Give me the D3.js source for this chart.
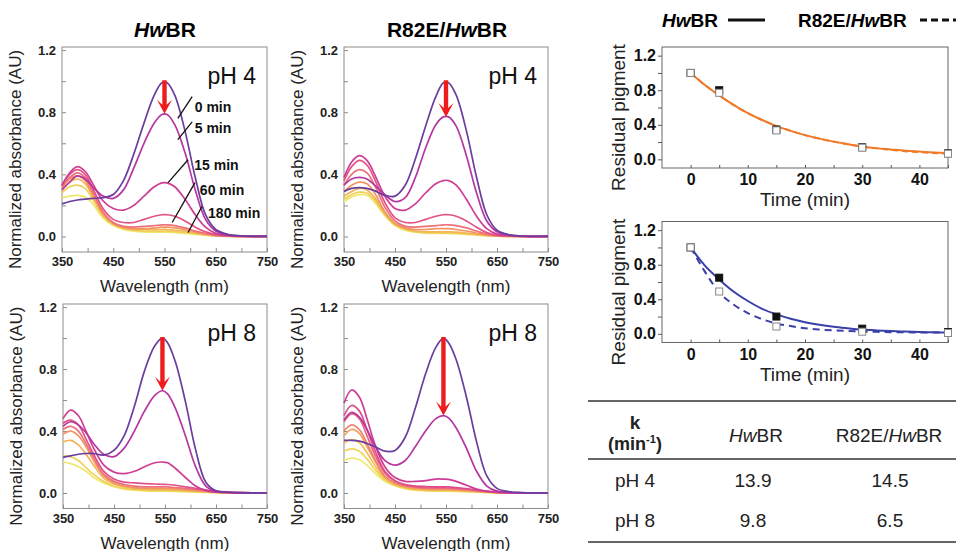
<!DOCTYPE html>
<html>
<head>
<meta charset="utf-8">
<script src="https://cdn.jsdelivr.net/npm/d3@7"></script>
<style>
  body { margin: 0; background: #fff; }
  svg { display: block; font-family: Arial, "Liberation Sans", sans-serif; }
</style>
</head>
<body>
<div class="chart"></div>
<script>
// ---- spectra: absorbance at these wavelengths ----
const wavelengths = [350, 365, 380, 395, 410, 430, 450, 470, 490, 510, 530, 545, 555, 570, 590, 610, 630, 650, 675, 700, 750];

const hwbrPh4Spectra = [
  [0.21, 0.225, 0.235, 0.24, 0.245, 0.25, 0.27, 0.36, 0.53, 0.73, 0.91, 0.99, 0.99, 0.91, 0.68, 0.38, 0.14, 0.045, 0.012, 0.004, 0],
  [0.30, 0.35, 0.39, 0.37, 0.32, 0.26, 0.245, 0.30, 0.44, 0.60, 0.73, 0.785, 0.785, 0.72, 0.54, 0.30, 0.11, 0.035, 0.01, 0.003, 0],
  [0.33, 0.41, 0.45, 0.42, 0.34, 0.23, 0.18, 0.17, 0.20, 0.26, 0.32, 0.345, 0.345, 0.32, 0.24, 0.14, 0.06, 0.02, 0.006, 0.002, 0],
  [0.33, 0.40, 0.43, 0.40, 0.31, 0.18, 0.11, 0.09, 0.09, 0.11, 0.13, 0.14, 0.14, 0.13, 0.10, 0.06, 0.03, 0.012, 0.004, 0.001, 0],
  [0.32, 0.38, 0.41, 0.38, 0.29, 0.16, 0.09, 0.065, 0.06, 0.065, 0.07, 0.075, 0.075, 0.07, 0.055, 0.035, 0.02, 0.008, 0.003, 0.001, 0],
  [0.31, 0.37, 0.39, 0.36, 0.27, 0.15, 0.085, 0.06, 0.05, 0.05, 0.055, 0.06, 0.06, 0.055, 0.045, 0.03, 0.015, 0.006, 0.002, 0, 0],
  [0.30, 0.35, 0.37, 0.34, 0.26, 0.14, 0.08, 0.055, 0.045, 0.045, 0.045, 0.045, 0.045, 0.04, 0.035, 0.022, 0.012, 0.005, 0.002, 0, 0],
  [0.28, 0.32, 0.33, 0.31, 0.24, 0.13, 0.075, 0.05, 0.04, 0.035, 0.035, 0.035, 0.035, 0.032, 0.026, 0.018, 0.01, 0.004, 0.001, 0, 0],
  [0.25, 0.26, 0.265, 0.255, 0.21, 0.12, 0.07, 0.045, 0.035, 0.03, 0.028, 0.028, 0.028, 0.025, 0.02, 0.014, 0.008, 0.003, 0.001, 0, 0]
];

const r82ePh4Spectra = [
  [0.29, 0.31, 0.315, 0.31, 0.295, 0.265, 0.26, 0.33, 0.50, 0.71, 0.90, 0.99, 0.99, 0.91, 0.68, 0.38, 0.14, 0.04, 0.01, 0.003, 0],
  [0.33, 0.37, 0.38, 0.37, 0.33, 0.27, 0.225, 0.25, 0.38, 0.57, 0.72, 0.77, 0.77, 0.71, 0.52, 0.28, 0.10, 0.03, 0.008, 0.002, 0],
  [0.38, 0.48, 0.52, 0.49, 0.40, 0.26, 0.18, 0.17, 0.21, 0.28, 0.34, 0.36, 0.36, 0.33, 0.24, 0.13, 0.05, 0.015, 0.005, 0.001, 0],
  [0.36, 0.45, 0.49, 0.46, 0.37, 0.22, 0.12, 0.09, 0.09, 0.11, 0.13, 0.14, 0.14, 0.13, 0.10, 0.06, 0.025, 0.008, 0.003, 0, 0],
  [0.33, 0.40, 0.43, 0.41, 0.33, 0.19, 0.10, 0.065, 0.06, 0.065, 0.07, 0.075, 0.075, 0.07, 0.055, 0.035, 0.015, 0.005, 0.002, 0, 0],
  [0.29, 0.33, 0.35, 0.34, 0.28, 0.16, 0.085, 0.055, 0.045, 0.045, 0.05, 0.05, 0.05, 0.045, 0.035, 0.022, 0.01, 0.004, 0.001, 0, 0],
  [0.26, 0.29, 0.31, 0.30, 0.25, 0.15, 0.08, 0.05, 0.035, 0.03, 0.03, 0.03, 0.03, 0.028, 0.022, 0.014, 0.007, 0.003, 0.001, 0, 0],
  [0.24, 0.27, 0.285, 0.28, 0.235, 0.14, 0.075, 0.045, 0.03, 0.025, 0.025, 0.022, 0.022, 0.02, 0.016, 0.01, 0.005, 0.002, 0, 0, 0],
  [0.225, 0.255, 0.27, 0.265, 0.22, 0.135, 0.07, 0.04, 0.028, 0.022, 0.02, 0.02, 0.02, 0.018, 0.014, 0.009, 0.005, 0.002, 0, 0, 0]
];

const hwbrPh8Spectra = [
  [0.23, 0.24, 0.25, 0.255, 0.255, 0.245, 0.275, 0.37, 0.56, 0.79, 0.95, 1.0, 0.97, 0.85, 0.59, 0.28, 0.07, 0.015, 0.005, 0.002, 0],
  [0.43, 0.46, 0.44, 0.39, 0.32, 0.25, 0.235, 0.29, 0.40, 0.53, 0.63, 0.66, 0.64, 0.55, 0.37, 0.17, 0.045, 0.012, 0.004, 0.001, 0],
  [0.48, 0.535, 0.50, 0.40, 0.29, 0.18, 0.135, 0.125, 0.14, 0.17, 0.195, 0.20, 0.195, 0.16, 0.10, 0.045, 0.015, 0.005, 0.002, 0, 0],
  [0.45, 0.47, 0.44, 0.35, 0.25, 0.14, 0.09, 0.07, 0.065, 0.06, 0.058, 0.056, 0.055, 0.05, 0.04, 0.03, 0.02, 0.012, 0.006, 0.003, 0],
  [0.41, 0.43, 0.40, 0.32, 0.23, 0.12, 0.075, 0.055, 0.045, 0.04, 0.04, 0.04, 0.04, 0.035, 0.03, 0.022, 0.015, 0.008, 0.004, 0.002, 0],
  [0.38, 0.40, 0.37, 0.30, 0.21, 0.11, 0.065, 0.045, 0.035, 0.03, 0.03, 0.03, 0.03, 0.027, 0.022, 0.016, 0.01, 0.006, 0.003, 0.001, 0],
  [0.33, 0.34, 0.31, 0.25, 0.18, 0.095, 0.058, 0.04, 0.03, 0.025, 0.022, 0.022, 0.022, 0.02, 0.016, 0.012, 0.008, 0.005, 0.002, 0.001, 0],
  [0.24, 0.235, 0.21, 0.165, 0.12, 0.075, 0.045, 0.03, 0.022, 0.018, 0.015, 0.015, 0.015, 0.013, 0.01, 0.008, 0.005, 0.003, 0.001, 0, 0],
  [0.20, 0.19, 0.17, 0.14, 0.10, 0.065, 0.04, 0.025, 0.018, 0.014, 0.012, 0.012, 0.012, 0.01, 0.008, 0.006, 0.004, 0.002, 0.001, 0, 0]
];

const r82ePh8Spectra = [
  [0.34, 0.34, 0.335, 0.32, 0.30, 0.27, 0.275, 0.36, 0.55, 0.77, 0.94, 1.0, 0.97, 0.86, 0.62, 0.33, 0.11, 0.03, 0.008, 0.003, 0],
  [0.47, 0.52, 0.49, 0.41, 0.31, 0.21, 0.18, 0.21, 0.30, 0.40, 0.48, 0.50, 0.485, 0.42, 0.29, 0.14, 0.045, 0.012, 0.004, 0.001, 0],
  [0.58, 0.665, 0.62, 0.48, 0.32, 0.17, 0.10, 0.075, 0.075, 0.08, 0.09, 0.09, 0.088, 0.075, 0.05, 0.025, 0.01, 0.004, 0.001, 0, 0],
  [0.50, 0.565, 0.53, 0.41, 0.28, 0.14, 0.08, 0.055, 0.045, 0.042, 0.04, 0.04, 0.04, 0.035, 0.028, 0.02, 0.012, 0.006, 0.003, 0.001, 0],
  [0.46, 0.51, 0.48, 0.37, 0.25, 0.13, 0.075, 0.05, 0.04, 0.035, 0.033, 0.033, 0.032, 0.03, 0.024, 0.017, 0.01, 0.005, 0.002, 0, 0],
  [0.40, 0.44, 0.41, 0.32, 0.22, 0.11, 0.065, 0.045, 0.035, 0.03, 0.028, 0.028, 0.027, 0.025, 0.02, 0.014, 0.008, 0.004, 0.002, 0, 0],
  [0.37, 0.41, 0.385, 0.30, 0.21, 0.105, 0.06, 0.04, 0.03, 0.025, 0.022, 0.022, 0.022, 0.02, 0.016, 0.011, 0.007, 0.003, 0.001, 0, 0],
  [0.32, 0.345, 0.325, 0.26, 0.18, 0.095, 0.055, 0.035, 0.025, 0.02, 0.018, 0.018, 0.018, 0.016, 0.012, 0.009, 0.006, 0.003, 0.001, 0, 0],
  [0.27, 0.285, 0.27, 0.22, 0.155, 0.085, 0.05, 0.03, 0.02, 0.016, 0.014, 0.014, 0.014, 0.012, 0.01, 0.007, 0.004, 0.002, 0.001, 0, 0],
  [0.21, 0.225, 0.215, 0.18, 0.13, 0.075, 0.045, 0.028, 0.018, 0.014, 0.012, 0.012, 0.012, 0.01, 0.008, 0.006, 0.003, 0.001, 0, 0, 0]
];

// red arrows: wavelength and the absorbance the arrow points down to
const arrowWavelength = [550, 550, 545, 545];
const arrowTo = [0.79, 0.77, 0.66, 0.50];

const timeLabels = ['0 min', '5 min', '15 min', '60 min', '180 min'];

// ---- bleaching kinetics ----
const fitTimes = [0, 2.5, 5, 7.5, 10, 12.5, 15, 17.5, 20, 22.5, 25, 27.5, 30, 32.5, 35, 37.5, 40, 42.5, 45];
const ph4FitHwbr = [1.0, 0.86, 0.74, 0.63, 0.535, 0.455, 0.385, 0.33, 0.28, 0.24, 0.205, 0.175, 0.15, 0.13, 0.115, 0.1, 0.09, 0.08, 0.075];
const ph4FitR82e = [1.0, 0.86, 0.74, 0.63, 0.535, 0.455, 0.385, 0.33, 0.28, 0.24, 0.205, 0.175, 0.148, 0.127, 0.11, 0.095, 0.083, 0.073, 0.065];
const ph8FitHwbr = [1.0, 0.79, 0.63, 0.49, 0.38, 0.29, 0.225, 0.175, 0.135, 0.105, 0.082, 0.065, 0.05, 0.04, 0.032, 0.026, 0.021, 0.018, 0.015];
const ph8FitR82e = [1.0, 0.72, 0.48, 0.34, 0.24, 0.17, 0.12, 0.09, 0.065, 0.05, 0.04, 0.033, 0.027, 0.023, 0.02, 0.018, 0.016, 0.015, 0.014];

const pointTimes = [0, 5, 15, 30, 45];
const ph4PointsHwbr = [1.0, 0.80, 0.345, 0.14, 0.07];
const ph4PointsR82e = [1.0, 0.77, 0.335, 0.135, 0.065];
const ph8PointsHwbr = [1.0, 0.65, 0.20, 0.06, 0.02];
const ph8PointsR82e = [1.0, 0.49, 0.085, 0.025, 0.01];

// ---- rate table ----
const tableRows = ['pH 4', 'pH 8'];
const kHwbr = [13.9, 9.8];
const kR82e = [14.5, 6.5];

const svg = d3.select('.chart')
  .append('svg')
  .attr('width', 956)
  .attr('height', 551);

const ramp = d3.piecewise(d3.interpolateRgb,
  ['#6a3d9e', '#b5379f', '#d8408f', '#ec6a7e', '#f39a5e', '#f1c84f', '#efe86c']);

// first curve purple, the rest spread from magenta to pale yellow
function curveColor(i, n) {
  if (i === 0) return ramp(0);
  return ramp(1 / 6 + (5 / 6) * (i - 1) / (n - 2));
}

const frameColor = '#8c8c8c';

function title(g, x, y, prefix) {
  const t = g.append('text')
    .attr('x', x).attr('y', y)
    .attr('text-anchor', 'middle')
    .style('font-size', '21px')
    .style('font-weight', 'bold');
  if (prefix) t.append('tspan').text(prefix);
  t.append('tspan').style('font-style', 'italic').text('Hw');
  t.append('tspan').text('BR');
}

function spectraPanel(opts) {
  const { left, top, width, height, curves, ph, arrow } = opts;
  const g = svg.append('g').attr('transform', `translate(${left}, ${top})`);

  const x = d3.scaleLinear().domain([350, 750]).range([0, width]);
  const y = d3.scaleLinear().domain([-0.1, 1.22]).range([height, 0]);

  // inward ticks, labels only on the majors
  const xAxis = d3.axisBottom(x).tickValues(d3.range(350, 751, 50))
    .tickSizeInner(-4).tickSizeOuter(0).tickPadding(5)
    .tickFormat(d => (d - 350) % 100 === 0 ? d : '');
  const yAxis = d3.axisLeft(y).tickValues([0, 0.2, 0.4, 0.6, 0.8, 1.0, 1.2])
    .tickSizeInner(-4).tickSizeOuter(0).tickPadding(6)
    .tickFormat(d => Math.round(d * 10) % 4 === 0 ? d3.format('.1f')(d) : '');

  g.append('g').attr('transform', `translate(0, ${height})`).call(xAxis)
    .call(a => a.select('.domain').remove());
  g.append('g').call(yAxis)
    .call(a => a.select('.domain').remove());
  g.selectAll('.tick line').attr('stroke', frameColor);
  g.selectAll('.tick text')
    .style('font-size', '13px').style('font-weight', 'bold').attr('fill', '#222')
    .style('font-family', 'Arial, "Liberation Sans", sans-serif');

  g.append('rect')
    .attr('width', width).attr('height', height)
    .attr('fill', 'none').attr('stroke', frameColor);

  const line = d3.line()
    .x((d, i) => x(wavelengths[i]))
    .y(d => y(d))
    .curve(d3.curveCatmullRom.alpha(0.5));

  const n = curves.length;
  g.selectAll('.spectrum')
    .data(curves.map((c, i) => ({ c, i })).reverse())
    .enter()
    .append('path')
    .classed('spectrum', true)
    .attr('d', d => line(d.c))
    .attr('fill', 'none')
    .attr('stroke', d => curveColor(d.i, n))
    .attr('stroke-width', 1.7);

  // red arrow
  const ax = x(arrowWavelength[arrow]);
  const y0 = y(1.0) - 1;
  const tip = y(arrowTo[arrow]);
  g.append('path')
    .attr('d', `M${ax - 2.2},${y0} L${ax + 2.2},${y0} L${ax + 2.2},${tip - 9}
      L${ax + 7.5},${tip - 14} L${ax},${tip} L${ax - 7.5},${tip - 14} L${ax - 2.2},${tip - 9} Z`)
    .attr('fill', '#ee1c1c');

  g.append('text')
    .attr('x', width - 11).attr('y', 37)
    .attr('text-anchor', 'end')
    .style('font-size', '23px')
    .attr('fill', '#111')
    .text(ph);

  g.append('text')
    .attr('x', x(550)).attr('y', height + 40)
    .attr('text-anchor', 'middle')
    .style('font-size', '17px')
    .attr('fill', '#222')
    .text('Wavelength (nm)');

  g.append('text')
    .attr('transform', `translate(${-47}, ${height / 2 + 10}) rotate(-90)`)
    .attr('text-anchor', 'middle')
    .attr('dy', '0.35em')
    .style('font-size', '17px')
    .attr('fill', '#222')
    .text('Normalized absorbance (AU)');

  return { g, x, y };
}

const pA = spectraPanel({ left: 62, top: 47, width: 205, height: 205, curves: hwbrPh4Spectra, ph: 'pH 4', arrow: 0 });
spectraPanel({ left: 344, top: 47, width: 204, height: 205, curves: r82ePh4Spectra, ph: 'pH 4', arrow: 1 });
spectraPanel({ left: 63, top: 304, width: 204, height: 204.5, curves: hwbrPh8Spectra, ph: 'pH 8', arrow: 2 });
spectraPanel({ left: 344, top: 304, width: 204, height: 204.5, curves: r82ePh8Spectra, ph: 'pH 8', arrow: 3 });

title(svg, 165, 37, '');
title(svg, 447, 37, 'R82E/');

// time labels with leader lines, placed in data units of the first panel
const labelAnchors = [
  { text: [609, 0.80], from: [604, 0.90], to: [576, 0.76] },
  { text: [609, 0.667], from: [604, 0.738], to: [576, 0.623] },
  { text: [608, 0.43], from: [596, 0.494], to: [557, 0.347] },
  { text: [619, 0.27], from: [609.5, 0.347], to: [565, 0.09] },
  { text: [635, 0.122], from: [623, 0.193], to: [596, 0.026] }
];
labelAnchors.forEach((a, i) => {
  pA.g.append('line')
    .attr('x1', pA.x(a.from[0])).attr('y1', pA.y(a.from[1]))
    .attr('x2', pA.x(a.to[0])).attr('y2', pA.y(a.to[1]))
    .attr('stroke', '#111').attr('stroke-width', 1.3);
  pA.g.append('text')
    .attr('x', pA.x(a.text[0])).attr('y', pA.y(a.text[1]))
    .style('font-size', '14px').style('font-weight', 'bold')
    .attr('fill', '#111')
    .text(timeLabels[i]);
});

// ---- kinetics panels ----
function kineticsPanel(opts) {
  const { left, top, width, height, fits, points } = opts;
  const g = svg.append('g').attr('transform', `translate(${left}, ${top})`);
  const x = d3.scaleLinear().domain([-5, 45]).range([0, width]);
  const y = d3.scaleLinear().domain([-0.1, 1.3]).range([height, 0]);

  const xAxis = d3.axisBottom(x).tickValues(d3.range(0, 46, 5))
    .tickSizeInner(-3).tickSizeOuter(0).tickPadding(6)
    .tickFormat(d => d % 10 === 0 ? d : '');
  const yAxis = d3.axisLeft(y).tickValues([0, 0.2, 0.4, 0.6, 0.8, 1.0, 1.2])
    .tickSizeInner(4).tickSizeOuter(0).tickPadding(2)
    .tickFormat(d => Math.round(d * 10) % 4 === 0 ? d3.format('.1f')(d) : '');

  g.append('g').attr('transform', `translate(0, ${height})`).call(xAxis)
    .call(a => a.select('.domain').remove());
  g.append('g').call(yAxis)
    .call(a => a.select('.domain').remove());
  g.selectAll('.tick line').attr('stroke', '#555');
  g.selectAll('.tick text')
    .style('font-size', '16px').style('font-weight', 'bold').attr('fill', '#111')
    .style('font-family', 'Arial, "Liberation Sans", sans-serif');

  g.append('rect')
    .attr('width', width).attr('height', height)
    .attr('fill', 'none').attr('stroke', '#666');

  const line = d3.line()
    .x((d, i) => x(fitTimes[i]))
    .y(d => y(d))
    .curve(d3.curveMonotoneX);

  fits.forEach(f => {
    g.append('path')
      .attr('d', line(f.values))
      .attr('fill', 'none')
      .attr('stroke', f.color)
      .attr('stroke-width', 2)
      .attr('stroke-dasharray', f.dash || null);
  });

  points.forEach(p => {
    g.selectAll(null)
      .data(p.values)
      .enter()
      .append('rect')
      .attr('x', (d, i) => x(pointTimes[i]) - 3.5)
      .attr('y', d => y(d) - 3.5)
      .attr('width', 7).attr('height', 7)
      .attr('fill', p.fill)
      .attr('stroke', p.stroke)
      .attr('stroke-width', 1);
  });

  g.append('text')
    .attr('x', x(20)).attr('y', height + 38)
    .attr('text-anchor', 'middle')
    .style('font-size', '19px').attr('fill', '#222')
    .text('Time (min)');

  g.append('text')
    .attr('transform', `translate(${-44}, ${height / 2 + 10}) rotate(-90)`)
    .attr('text-anchor', 'middle')
    .attr('dy', '0.35em')
    .style('font-size', '19px').attr('fill', '#222')
    .text('Residual pigment');
}

kineticsPanel({
  left: 662, top: 47, width: 286, height: 121,
  fits: [
    { values: ph4FitR82e, color: '#f07a2a', dash: '6,4' },
    { values: ph4FitHwbr, color: '#f07a2a' }
  ],
  points: [
    { values: ph4PointsHwbr, fill: '#111', stroke: '#111' },
    { values: ph4PointsR82e, fill: '#fff', stroke: '#888' }
  ]
});

kineticsPanel({
  left: 662, top: 221.5, width: 286, height: 121,
  fits: [
    { values: ph8FitR82e, color: '#3a40a8', dash: '7,5' },
    { values: ph8FitHwbr, color: '#3a40a8' }
  ],
  points: [
    { values: ph8PointsHwbr, fill: '#111', stroke: '#111' },
    { values: ph8PointsR82e, fill: '#fff', stroke: '#888' }
  ]
});

// legend
const legend = svg.append('g').style('font-size', '19px').style('font-weight', 'bold');
const l1 = legend.append('text').attr('x', 662).attr('y', 27);
l1.append('tspan').style('font-style', 'italic').text('Hw');
l1.append('tspan').text('BR');
legend.append('line').attr('x1', 728).attr('x2', 765).attr('y1', 20).attr('y2', 20)
  .attr('stroke', '#111').attr('stroke-width', 3);
const l2 = legend.append('text').attr('x', 798).attr('y', 27);
l2.append('tspan').text('R82E/');
l2.append('tspan').style('font-style', 'italic').text('Hw');
l2.append('tspan').text('BR');
legend.append('line').attr('x1', 920).attr('x2', 956).attr('y1', 20).attr('y2', 20)
  .attr('stroke', '#111').attr('stroke-width', 3).attr('stroke-dasharray', '7,4');

// ---- table ----
const table = svg.append('g').style('font-size', '19px').attr('fill', '#222');
[401, 459, 542].forEach(ly => {
  table.append('line').attr('x1', 588).attr('x2', 956).attr('y1', ly).attr('y2', ly)
    .attr('stroke', '#333').attr('stroke-width', 1.6);
});
table.append('text').attr('x', 635).attr('y', 429).attr('text-anchor', 'middle')
  .style('font-weight', 'bold').text('k');
const unit = table.append('text').attr('x', 635).attr('y', 450).attr('text-anchor', 'middle')
  .style('font-weight', 'bold').style('font-size', '18px');
unit.append('tspan').text('(min');
unit.append('tspan').attr('dy', -7).style('font-size', '11px').text('-1');
unit.append('tspan').attr('dy', 7).text(')');

const h1 = table.append('text').attr('x', 756).attr('y', 442).attr('text-anchor', 'middle');
h1.append('tspan').style('font-style', 'italic').text('Hw');
h1.append('tspan').text('BR');
const h2 = table.append('text').attr('x', 889).attr('y', 442).attr('text-anchor', 'middle');
h2.append('tspan').text('R82E/');
h2.append('tspan').style('font-style', 'italic').text('Hw');
h2.append('tspan').text('BR');

const rowY = d3.scalePoint().domain(tableRows).range([487, 527]);
tableRows.forEach((r, i) => {
  table.append('text').attr('x', 635).attr('y', rowY(r)).attr('text-anchor', 'middle').text(r);
  table.append('text').attr('x', 753).attr('y', rowY(r)).attr('text-anchor', 'middle')
    .text(d3.format('.1f')(kHwbr[i]));
  table.append('text').attr('x', 890).attr('y', rowY(r)).attr('text-anchor', 'middle')
    .text(d3.format('.1f')(kR82e[i]));
});
</script>
</body>
</html>
